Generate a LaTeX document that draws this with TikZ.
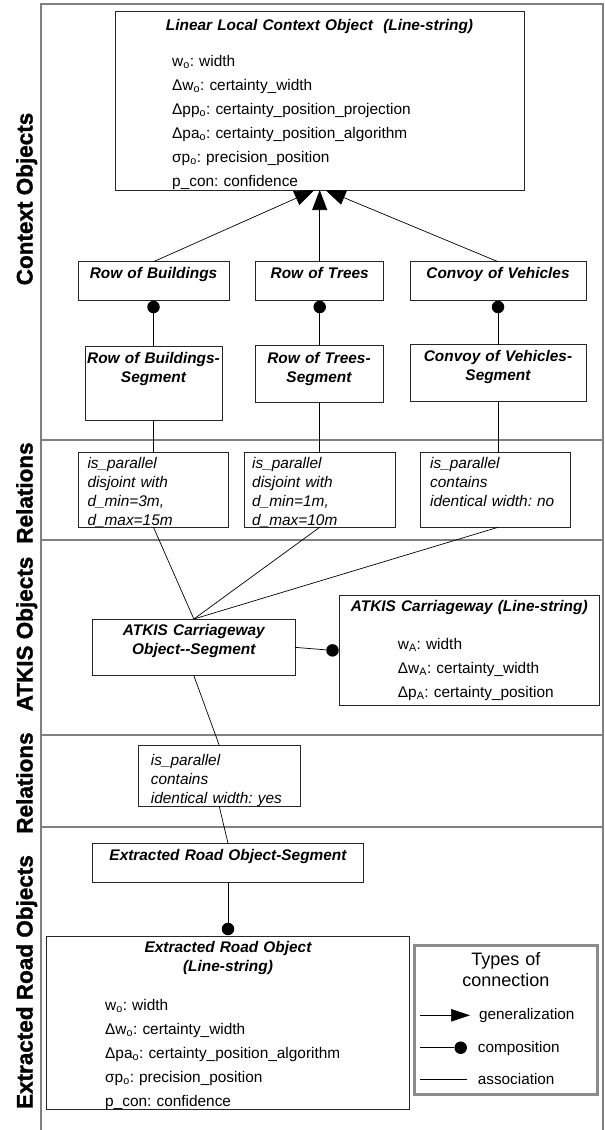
\documentclass[tikz,border=0pt]{standalone}
\usepackage{fontspec}
\setmainfont{Liberation Sans}
\newfontfamily\sidefont[BoldFeatures={FakeBold=1.4}]{Liberation Sans}
\usetikzlibrary{arrows.meta,calc}
\frenchspacing
\begin{document}
\begin{tikzpicture}[x=1pt,y=-1pt,
  frame/.style={draw=black!50, line width=2pt, line join=miter},
  box/.style={draw=black!85, line width=0.8pt, fill=white, inner sep=0pt, outer sep=0pt, anchor=north west},
  legbox/.style={draw=black!45, line width=3pt, fill=white, inner sep=0pt, outer sep=0pt, anchor=north west},
  conn/.style={draw=black, line width=0.7pt},
  gen/.style={conn, -{Triangle[length=20pt,width=15pt]}},
  genleg/.style={conn, -{Triangle[length=19pt,width=12.5pt]}},
  dotc/.style={circle, fill=black, draw=none, inner sep=0pt, minimum size=12.5pt},
  title/.style={font=\fontsize{15.4}{19}\selectfont\bfseries\itshape, inner sep=0pt, anchor=base, text width=400pt, align=center},
  attr/.style={font=\fontsize{15.4}{24}\selectfont, inner sep=0pt, anchor=base west, text width=300pt, align=left},
  rel/.style={font=\fontsize{15.4}{19.1}\selectfont\itshape, inner sep=0pt, anchor=base west, text width=140pt, align=left},
  side/.style={font=\sidefont\fontsize{22.5}{27}\selectfont\bfseries, rotate=90, anchor=base, inner sep=0pt},
  lbl/.style={font=\fontsize{15.3}{18}\selectfont, inner sep=0pt, anchor=base west},
  legtitle/.style={font=\fontsize{18}{21}\selectfont, inner sep=0pt, anchor=base, text width=170pt, align=center},
]
\useasboundingbox (0,0) rectangle (605,1130);

% frame of the rows
\draw[frame] (41,1130) -- (41,4) -- (603,4) -- (603,1130);
\draw[frame] (41,439.5) -- (603,439.5);
\draw[frame] (41,540) -- (603,540);
\draw[frame] (41,735) -- (603,735);
\draw[frame] (41,826.5) -- (603,826.5);

% row labels
\node[side] (lab1) at (32.5,199) {Context Objects};
\node[side] (lab2) at (32.5,493) {Relations};
\node[side] (lab3) at (32.5,634) {ATKIS Objects};
\node[side] (lab4) at (32.5,783) {Relations};
\node[side] (lab5) at (32.5,982) {Extracted Road Objects};

% Linear local context object
\node[box, minimum width=409pt, minimum height=178.3pt] (llco) at (115,11.7) {};
\node[title] (llco-t) at (319.5,30) {Linear Local Context Object\ \ (Line-string)};
\node[attr] (llco-a) at (172,66.7) {w\textsubscript{o}: width\\
Δw\textsubscript{o}: certainty\_width\\
Δpp\textsubscript{o}: certainty\_position\_projection\\
Δpa\textsubscript{o}: certainty\_position\_algorithm\\
σp\textsubscript{o}: precision\_position\\
p\_con: confidence};

% row of context classes
\node[box, minimum width=151pt, minimum height=38.6pt] (rob) at (78,261.7) {};
\node[title] (rob-t) at (153.5,278.5) {Row of Buildings};
\node[box, minimum width=128.2pt, minimum height=38.6pt] (rot) at (255.6,261.7) {};
\node[title] (rot-t) at (319.7,278.5) {Row of Trees};
\node[box, minimum width=176pt, minimum height=38.6pt] (cov) at (410,261.7) {};
\node[title] (cov-t) at (498,278.5) {Convoy of Vehicles};

% segments
\node[box, minimum width=137pt, minimum height=74.3pt] (robs) at (85,346) {};
\node[title] (robs-t) at (153.5,363) {Row of Buildings-\\Segment};
\node[box, minimum width=128pt, minimum height=56.3pt] (rots) at (255,345.7) {};
\node[title] (rots-t) at (319,363) {Row of Trees-\\Segment};
\node[box, minimum width=176pt, minimum height=56.3pt] (covs) at (410,344.7) {};
\node[title] (covs-t) at (498,361.5) {Convoy of Vehicles-\\Segment};

% relations (context)
\node[box, minimum width=150.4pt, minimum height=74.6pt] (r1) at (78.3,452.7) {};
\node[rel] (r1-t) at (87.3,468.3) {is\_parallel\\disjoint with\\d\_min=3m,\\d\_max=15m};
\node[box, minimum width=150.7pt, minimum height=74.6pt] (r2) at (244.3,452.7) {};
\node[rel] (r2-t) at (252,468.3) {is\_parallel\\disjoint with\\d\_min=1m,\\d\_max=10m};
\node[box, minimum width=150.2pt, minimum height=74.6pt] (r3) at (420.5,452.7) {};
\node[rel] (r3-t) at (430,468.3) {is\_parallel\\contains\\identical width: no};

% ATKIS objects
\node[box, minimum width=202.3pt, minimum height=56.7pt] (aseg) at (92.7,619) {};
\node[title] (aseg-t) at (193.85,635.5) {ATKIS Carriageway\\Object-{}-Segment};
\node[box, minimum width=260.6pt, minimum height=110.7pt] (aline) at (339,595) {};
\node[title] (aline-t) at (469.3,611.5) {ATKIS Carriageway (Line-string)};
\node[attr] (aline-a) at (397.7,649.3) {w\textsubscript{A}: width\\
Δw\textsubscript{A}: certainty\_width\\
Δp\textsubscript{A}: certainty\_position};

% relations (road)
\node[box, minimum width=161.7pt, minimum height=61pt] (r4) at (138.3,745) {};
\node[rel, font=\fontsize{15.4}{19.3}\selectfont\itshape] (r4-t) at (150.7,765) {is\_parallel\\contains\\identical width: yes};

% extracted road objects
\node[box, minimum width=271.4pt, minimum height=39pt] (eseg) at (92.3,843.3) {};
\node[title] (eseg-t) at (228,860) {Extracted Road Object-Segment};
\node[box, minimum width=362.6pt, minimum height=173.3pt] (ero) at (46.7,936) {};
\node[title] (ero-t) at (228,952.5) {Extracted Road Object\\(Line-string)};
\node[attr] (ero-a) at (105,1010) {w\textsubscript{o}: width\\
Δw\textsubscript{o}: certainty\_width\\
Δpa\textsubscript{o}: certainty\_position\_algorithm\\
σp\textsubscript{o}: precision\_position\\
p\_con: confidence};

% generalizations
\draw[gen] (rob.north) -- ($(llco.south)+(-5,0)$);
\draw[gen] (rot.north) -- (rot.north |- llco.south);
\draw[gen] (cov.north) -- ($(llco.south)+(6,0)$);

% compositions
\node[dotc] (d1) at ($(rob.south)+(0,6.7)$) {};
\node[dotc] (d2) at ($(rot.south)+(0,6.7)$) {};
\node[dotc] (d3) at ($(cov.south)+(0,6.7)$) {};
\draw[conn] (d1) -- (d1 |- robs.north);
\draw[conn] (d2) -- (d2 |- rots.north);
\draw[conn] (d3) -- (d3 |- covs.north);
\node[dotc] (d4) at ($(aline.west)+(-6.5,0)$) {};
\draw[conn] (aseg.east) -- (d4);
\node[dotc] (d5) at ($(ero.north)+(0,-7)$) {};
\draw[conn] (eseg.south) -- (d5);

% associations
\draw[conn] (robs.south) -- (robs.south |- r1.north);
\draw[conn] (rots.south) -- (rots.south |- r2.north);
\draw[conn] (covs.south) -- (covs.south |- r3.north);
\draw[conn] (r1.south) -- (aseg.north);
\draw[conn] (r2.south) -- (aseg.north);
\draw[conn] (covs.south |- r3.south) -- (aseg.north);
\draw[conn] (aseg.south) -- (r4.north);
\draw[conn] (r4.south) -- (eseg.north);

% legend
\node[legbox, minimum width=183pt, minimum height=149pt] (leg) at (414.3,945) {};
\node[legtitle] (leg-t) at (505.8,965) {Types of\\connection};
\coordinate (lg1) at (420,1015.3);
\coordinate (lg2) at (470,1015.3);
\draw[genleg] (lg1) -- (lg2);
\node[lbl] (lgt1) at (479,1019.3) {generalization};
\coordinate (lc1) at (420,1047.7);
\node[dotc] (lcd) at (460.7,1047.7) {};
\draw[conn] (lc1) -- (lcd);
\node[lbl] (lgt2) at (477.7,1052) {composition};
\coordinate (la1) at (420,1079.3);
\coordinate (la2) at (467.3,1079.3);
\draw[conn] (la1) -- (la2);
\node[lbl] (lgt3) at (477.7,1084.3) {association};
\end{tikzpicture}
\end{document}
